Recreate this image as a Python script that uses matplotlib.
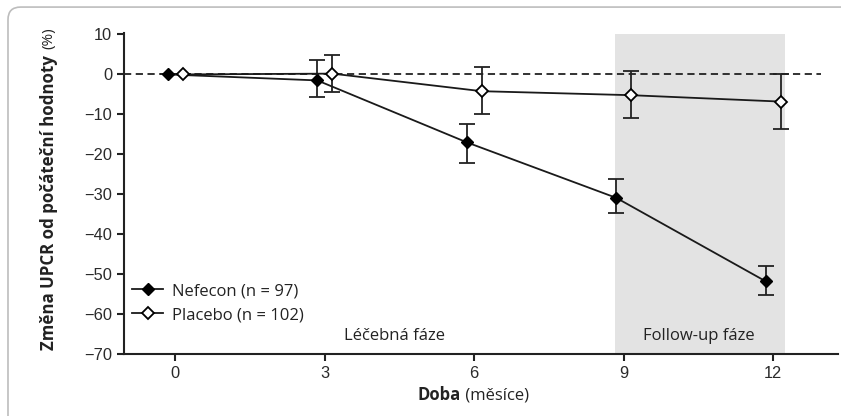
import matplotlib.pyplot as plt
from matplotlib.patches import FancyBboxPatch

months = [0, 3, 6, 9, 12]
nefecon = [0, -1.5, -17, -30.9, -51.8]
nefecon_hi = [0, 3.5, -12.4, -26.2, -47.9]
nefecon_lo = [0, -5.6, -22.3, -34.7, -55.1]
placebo = [0, 0.2, -4.2, -5.2, -6.8]
placebo_hi = [0, 4.8, 1.8, 0.8, 0.0]
placebo_lo = [0, -4.5, -9.8, -11.0, -13.7]
yticks = [10, 0, -10, -20, -30, -40, -50, -60, -70]
ytick_labels = ["10", "0", "\u221210", "\u221220", "\u221230", "\u221240", "\u221250", "\u221260", "\u221270"]

fig = plt.figure(figsize=(8.41, 4.16), dpi=100)
frame = FancyBboxPatch((0.0095, -0.1), 1.2, 1.083, boxstyle="round,pad=0,rounding_size=0.015",
                       transform=fig.transFigure, facecolor="white", edgecolor="#bdbdbd",
                       linewidth=1.2, mutation_aspect=841 / 416, zorder=-10)
fig.patches.append(frame)

ax = fig.add_axes([0.1474, 0.149, 0.849, 0.771])
ax.set_facecolor("none")
ax.set_xlim(-1.03, 13.3)
ax.set_ylim(-70, 10.3)

# follow-up shading and zero reference
ax.axvspan(8.83, 12.23, ymax=(10 + 70) / 80.3, color="#e3e3e3", zorder=0, lw=0)
ax.plot([-1.03, 12.95], [0, 0], ls=(0, (4, 2.5)), color="#222222", lw=1.3, zorder=1)

off = 0.15
xn = [m - off for m in months]
xp = [m + off for m in months]
err_n = [[v - lo for v, lo in zip(nefecon, nefecon_lo)], [hi - v for v, hi in zip(nefecon, nefecon_hi)]]
err_p = [[v - lo for v, lo in zip(placebo, placebo_lo)], [hi - v for v, hi in zip(placebo, placebo_hi)]]
ax.errorbar(xn, nefecon, yerr=err_n, fmt="none", ecolor="#222222", elinewidth=1.3, capsize=6, capthick=1.3, zorder=2)
ax.errorbar(xp, placebo, yerr=err_p, fmt="none", ecolor="#222222", elinewidth=1.3, capsize=6, capthick=1.3, zorder=2)
ax.plot(xn, nefecon, color="#1a1a1a", lw=1.3, marker="D", ms=6, mfc="black", mec="black",
        label="Nefecon (n = 97)", zorder=3)
ax.plot(xp, placebo, color="#1a1a1a", lw=1.3, marker="D", ms=6, mfc="white", mec="black",
        mew=1.3, label="Placebo (n = 102)", zorder=4)

for s in ["top", "right"]:
    ax.spines[s].set_visible(False)
for s in ["left", "bottom"]:
    ax.spines[s].set_linewidth(1.5)
    ax.spines[s].set_color("#222222")
ax.spines["left"].set_bounds(-70, 10.3)

ax.set_yticks(yticks)
ax.set_yticklabels(ytick_labels)
ax.set_xticks(months)
ax.tick_params(axis="both", direction="out", length=5, width=1.5, color="#222222",
               labelsize=11.8, labelcolor="#2a2a2a")
for lab in ax.get_xticklabels() + ax.get_yticklabels():
    lab.set_fontfamily("Liberation Sans")

ax.text(4.4, -65.5, "Léčebná fáze", ha="center", va="center", fontsize=12,
        fontfamily="Open Sans", color="#222222")
ax.text(10.5, -65.5, "Follow-up fáze", ha="center", va="center", fontsize=12,
        fontfamily="Open Sans", color="#222222")

fig.text(0.548, 0.05, "Doba", ha="right", va="center", fontsize=12, fontweight="bold",
         fontfamily="Open Sans", color="#222222")
fig.text(0.548, 0.05, " (měsíce)", ha="left", va="center", fontsize=12,
         fontfamily="Open Sans", color="#222222")
fig.text(0.058, 0.159, "Změna UPCR od počáteční hodnoty", ha="center", va="bottom", rotation=90,
         fontsize=12.2, fontweight="bold", fontfamily="Open Sans", color="#222222")
fig.text(0.058, 0.882, "(%)", ha="center", va="bottom", rotation=90,
         fontsize=11, fontfamily="Open Sans", color="#222222")

leg = ax.legend(loc="lower left", bbox_to_anchor=(0.0, 0.07), frameon=False,
                handlelength=1.86, handletextpad=0.54, labelspacing=0.48,
                borderaxespad=0.2, borderpad=0.3,
                prop={"family": "Open Sans", "size": 12})
for t in leg.get_texts():
    t.set_color("#222222")

fig.savefig("out.png", dpi=100)
